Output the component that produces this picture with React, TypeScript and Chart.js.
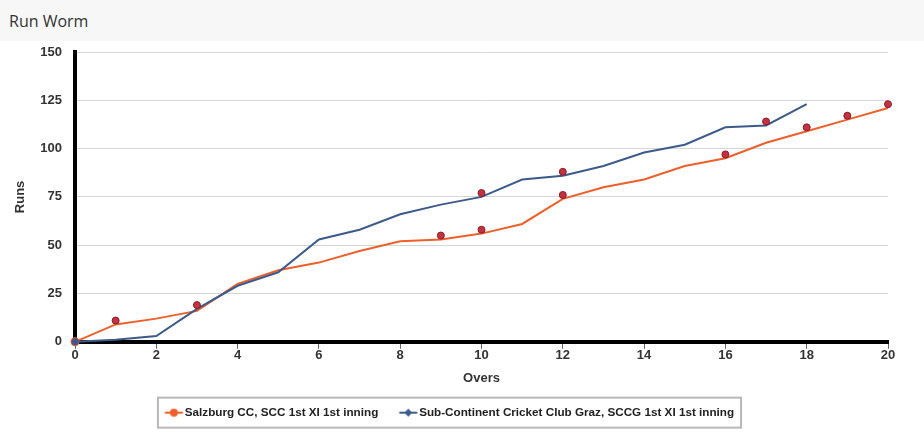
import { useEffect, useRef } from 'react';
import { Chart, registerables } from 'chart.js';

Chart.register(...registerables);

const overs = [0, 1, 2, 3, 4, 5, 6, 7, 8, 9, 10, 11, 12, 13, 14, 15, 16, 17, 18, 19, 20];
const salzburgRuns = [0, 9, 12, 16, 30, 37, 41, 47, 52, 53, 56, 61, 74, 80, 84, 91, 95, 103, 109, 115, 121];
const sccgRuns = [0, 1, 3, 17, 29, 36, 53, 58, 66, 71, 75, 84, 86, 91, 98, 102, 111, 112, 123];
const salzburgWicketOvers = [1, 3, 9, 10, 12, 16, 18, 19, 20];
const salzburgWicketRuns = [11, 19, 55, 58, 76, 97, 111, 117, 123];
const sccgWicketOvers = [10, 12, 17];
const sccgWicketRuns = [77, 88, 114];
const seriesNames = ['Salzburg CC, SCC 1st XI 1st inning', 'Sub-Continent Cricket Club Graz, SCCG 1st XI 1st inning'];
const chartTitle = 'Run Worm';
const xAxisTitle = 'Overs';
const yAxisTitle = 'Runs';
const xMin = 0, xMax = 20, xStep = 2;
const yMin = 0, yMax = 150, yStep = 25;

const ORANGE = '#ee5f2a';
const BLUE = '#3c5a8a';
const TICK_FONT = { family: '"Liberation Sans", Arial, sans-serif', size: 13, weight: 'bold' as const };

function makeMarker(color: string, diamond: boolean) {
  const c = document.createElement('canvas');
  c.width = 40;
  c.height = 10;
  const g = c.getContext('2d')!;
  g.strokeStyle = color;
  g.lineWidth = 2;
  g.beginPath();
  g.moveTo(18.5, 5);
  g.lineTo(36.5, 5);
  g.stroke();
  g.fillStyle = color;
  g.beginPath();
  const cx = 27.5;
  if (diamond) {
    g.moveTo(cx, 1);
    g.lineTo(cx + 4, 5);
    g.lineTo(cx, 9);
    g.lineTo(cx - 4, 5);
    g.closePath();
  } else {
    g.arc(cx, 5, 4, 0, Math.PI * 2);
  }
  g.fill();
  return c;
}

const legendBorder = {
  id: 'legendBorder',
  afterDraw(chart: any) {
    const hb = chart.legend?.legendHitBoxes;
    if (!hb || !hb.length) return;
    const ctx = chart.ctx;
    const last = hb[hb.length - 1];
    const left = hb[0].left + 4;
    const right = last.left + last.width + 7;
    const cy = hb[0].top + hb[0].height / 2;
    ctx.save();
    ctx.strokeStyle = '#b8b8b8';
    ctx.lineWidth = 2;
    ctx.strokeRect(left, cy - 15, right - left, 30);
    ctx.restore();
  },
};

export default function App() {
  const ref = useRef<HTMLCanvasElement>(null);
  useEffect(() => {
    document.body.style.margin = '0';
    const orangeMarker = makeMarker(ORANGE, false);
    const blueMarker = makeMarker(BLUE, true);
    const chart = new Chart(ref.current!, {
      type: 'line',
      data: {
        datasets: [
          {
            label: seriesNames[0],
            data: salzburgRuns.map((y, i) => ({ x: overs[i], y })),
            borderColor: ORANGE,
            backgroundColor: ORANGE,
            borderWidth: 2,
            pointRadius: (c: any) => (c.dataIndex === 0 ? 4.5 : 0),
            pointBackgroundColor: ORANGE,
            pointBorderWidth: 0,
            tension: 0,
            clip: false as any,
            order: 3,
          },
          {
            label: seriesNames[1],
            data: sccgRuns.map((y, i) => ({ x: overs[i], y })),
            borderColor: BLUE,
            backgroundColor: BLUE,
            borderWidth: 2,
            pointRadius: (c: any) => (c.dataIndex === 0 ? 3.5 : 0),
            pointBackgroundColor: BLUE,
            pointBorderWidth: 0,
            tension: 0,
            clip: false as any,
            order: 2,
          },
          {
            label: 'w1',
            data: salzburgWicketOvers.map((x, i) => ({ x, y: salzburgWicketRuns[i] })),
            showLine: false,
            pointRadius: 3.5,
            pointBackgroundColor: '#c23240',
            pointBorderColor: '#8e1c28',
            pointBorderWidth: 1,
            clip: false as any,
            order: 1,
          },
          {
            label: 'w2',
            data: sccgWicketOvers.map((x, i) => ({ x, y: sccgWicketRuns[i] })),
            showLine: false,
            pointRadius: 3.5,
            pointBackgroundColor: '#c23240',
            pointBorderColor: '#8e1c28',
            pointBorderWidth: 1,
            clip: false as any,
            order: 0,
          },
        ],
      },
      options: {
        animation: false,
        responsive: false,
        layout: { padding: { left: 0, right: 36, top: 11, bottom: 4.5 } },
        plugins: {
          tooltip: { enabled: false },
          legend: {
            position: 'bottom',
            labels: {
              usePointStyle: true,
              pointStyleWidth: 25,
              padding: 10,
              color: '#222',
              font: { family: '"Liberation Sans", Arial, sans-serif', size: 11.7, weight: 'bold' },
              generateLabels: () => [
                {
                  text: seriesNames[0],
                  pointStyle: orangeMarker as any,
                  fillStyle: ORANGE,
                  strokeStyle: ORANGE,
                  lineWidth: 0,
                  hidden: false,
                  datasetIndex: 0,
                  fontColor: '#222',
                },
                {
                  text: seriesNames[1],
                  pointStyle: blueMarker as any,
                  fillStyle: BLUE,
                  strokeStyle: BLUE,
                  lineWidth: 0,
                  hidden: false,
                  datasetIndex: 1,
                  fontColor: '#222',
                },
              ],
            },
          },
        },
        scales: {
          x: {
            type: 'linear',
            min: xMin,
            max: xMax,
            afterFit: (s: any) => {
              s.height = 55;
            },
            ticks: { stepSize: xStep, padding: -1, color: '#333', font: TICK_FONT, maxRotation: 0 },
            grid: { display: true, drawOnChartArea: false, drawTicks: true, tickLength: 7, color: '#666' },
            border: { display: true, width: 4, color: '#000' },
            title: { display: true, text: xAxisTitle, color: '#333', font: TICK_FONT, padding: { top: 4, bottom: 10.7 } },
          },
          y: {
            min: yMin,
            max: yMax,
            afterFit: (s: any) => {
              s.width = 75;
            },
            ticks: { stepSize: yStep, padding: 0, color: '#333', font: TICK_FONT },
            grid: { color: '#d6d6d6', drawTicks: true, tickLength: 13, tickColor: 'rgba(0,0,0,0)' },
            border: { display: true, width: 4, color: '#000' },
            title: { display: true, text: yAxisTitle, color: '#333', font: TICK_FONT, padding: { top: 13, bottom: 4 } },
          },
        },
      },
      plugins: [legendBorder],
    });
    return () => chart.destroy();
  }, []);

  return (
    <div style={{ width: 924 }}>
      <div
        style={{
          height: 41,
          lineHeight: '42px',
          background: '#f7f7f7',
          paddingLeft: 9,
          fontFamily: '"Open Sans", sans-serif',
          fontSize: 16,
          color: '#333',
        }}
      >
        {chartTitle}
      </div>
      <canvas ref={ref} width={924} height={392} style={{ display: 'block' }} />
    </div>
  );
}
